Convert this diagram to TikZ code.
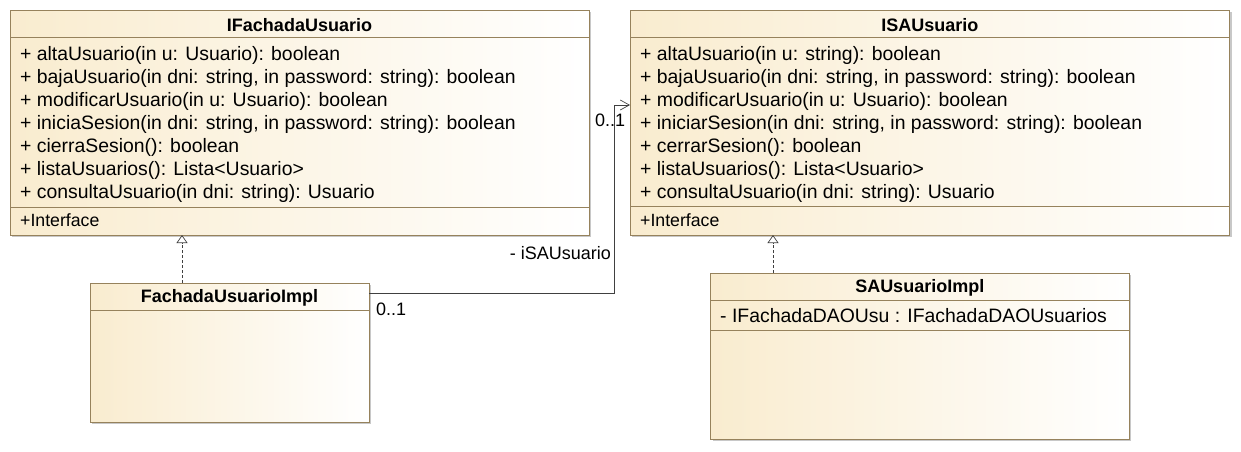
\documentclass[tikz,border=0pt]{standalone}
\usepackage{fontspec}
\setmainfont{Liberation Sans}
\usetikzlibrary{arrows.meta,shadows}
\definecolor{umlfill}{RGB}{249,236,207}
\definecolor{umlborder}{RGB}{150,130,92}
\definecolor{umlshadow}{RGB}{200,200,200}
\tikzset{
  classbox/.style={draw=umlborder, line width=0.9pt, left color=umlfill, right color=white,
    anchor=north west, inner sep=0pt, outer sep=0pt,
    drop shadow={shadow xshift=2pt, shadow yshift=-2pt, fill=umlshadow, opacity=1}},
  sepline/.style={draw=umlborder, line width=0.9pt},
  txt/.style={anchor=base west, inner sep=0pt, font=\fontsize{19.4}{23}\selectfont},
  small/.style={anchor=base west, inner sep=0pt, font=\fontsize{17.7}{22}\selectfont},
  ttl/.style={anchor=base, inner sep=0pt, font=\fontsize{18}{22}\selectfont\bfseries},
  lbl/.style={inner sep=0pt, font=\fontsize{18}{22}\selectfont},
  realize/.style={draw=black!75, line width=0.7pt, dash pattern=on 3pt off 2pt,
    -{Triangle[open,length=8pt,width=11pt,line width=0.7pt]}},
  assoc/.style={draw=black!75, line width=0.7pt, -{Straight Barb[length=9pt,width=10pt,line width=0.7pt]}}
}
\begin{document}
\begin{tikzpicture}[x=1pt,y=-1pt]
\useasboundingbox (0,0) rectangle (1241,451);

% ---------- IFachadaUsuario ----------
\node[classbox, minimum width=579pt, minimum height=225pt] (ifach) at (10,10) {};
\draw[sepline] (ifach.west |- 0,37) -- (ifach.east |- 0,37);
\draw[sepline] (ifach.west |- 0,207) -- (ifach.east |- 0,207);
\node[ttl] (ifacht) at (299.5,31) {IFachadaUsuario};
\node[txt] (ifa1) at (20,60) {+ altaUsuario(in u: Usuario): boolean};
\node[txt] (ifa2) at (20,83) {+ bajaUsuario(in dni: string, in password: string): boolean};
\node[txt] (ifa3) at (20,106) {+ modificarUsuario(in u: Usuario): boolean};
\node[txt] (ifa4) at (20,129) {+ iniciaSesion(in dni: string, in password: string): boolean};
\node[txt] (ifa5) at (20,152) {+ cierraSesion(): boolean};
\node[txt] (ifa6) at (20,175) {+ listaUsuarios(): Lista<Usuario>};
\node[txt] (ifa7) at (20,198) {+ consultaUsuario(in dni: string): Usuario};
\node[small] (ifa8) at (20,226) {+Interface};

% ---------- ISAUsuario ----------
\node[classbox, minimum width=599.5pt, minimum height=225pt] (isa) at (630,10) {};
\draw[sepline] (isa.west |- 0,37) -- (isa.east |- 0,37);
\draw[sepline] (isa.west |- 0,206) -- (isa.east |- 0,206);
\node[ttl] (isat) at (929.75,31) {ISAUsuario};
\node[txt] (isa1) at (640,60) {+ altaUsuario(in u: string): boolean};
\node[txt] (isa2) at (640,83) {+ bajaUsuario(in dni: string, in password: string): boolean};
\node[txt] (isa3) at (640,106) {+ modificarUsuario(in u: Usuario): boolean};
\node[txt] (isa4) at (640,129) {+ iniciarSesion(in dni: string, in password: string): boolean};
\node[txt] (isa5) at (640,152) {+ cerrarSesion(): boolean};
\node[txt] (isa6) at (640,175) {+ listaUsuarios(): Lista<Usuario>};
\node[txt] (isa7) at (640,198) {+ consultaUsuario(in dni: string): Usuario};
\node[small] (isa8) at (640,226) {+Interface};

% ---------- FachadaUsuarioImpl ----------
\node[classbox, minimum width=279pt, minimum height=139pt] (fimpl) at (90,283) {};
\draw[sepline] (fimpl.west |- 0,310) -- (fimpl.east |- 0,310);
\node[ttl] (fimplt) at (229.5,302) {FachadaUsuarioImpl};

% ---------- SAUsuarioImpl ----------
\node[classbox, minimum width=418.5pt, minimum height=166pt] (saimpl) at (710.5,273) {};
\draw[sepline] (saimpl.west |- 0,300) -- (saimpl.east |- 0,300);
\draw[sepline] (saimpl.west |- 0,330) -- (saimpl.east |- 0,330);
\node[ttl] (saimplt) at (919.75,292) {SAUsuarioImpl};
\node[txt] (sa1) at (720,322) {- IFachadaDAOUsu : IFachadaDAOUsuarios};

% ---------- realizations ----------
\draw[realize] (182,0 |- fimpl.north) -- (182,0 |- ifach.south);
\draw[realize] (773,0 |- saimpl.north) -- (773,0 |- isa.south);

% ---------- association ----------
\coordinate (bendA) at (614,293);
\coordinate (bendB) at (614,105);
\draw[assoc] (fimpl.east |- bendA) -- (bendA) -- (bendB) -- (isa.west |- bendB);
\node[lbl, anchor=base west] (m1) at (376,315) {0..1};
\node[lbl, anchor=base east] (role) at (611,259) {- iSAUsuario};
\node[lbl, anchor=base west] (m2) at (595,126) {0..1};
\end{tikzpicture}
\end{document}
